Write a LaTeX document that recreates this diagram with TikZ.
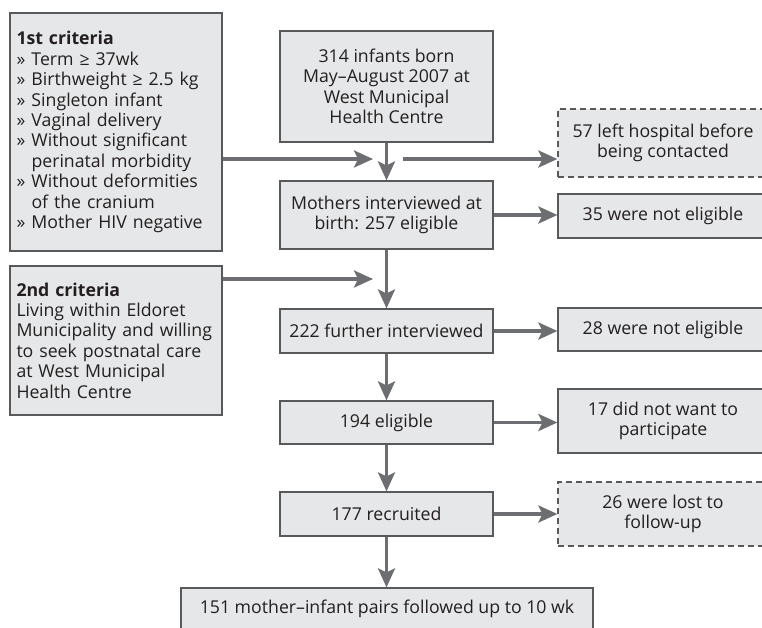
\documentclass[tikz,border=0pt]{standalone}
\usepackage{fontspec}
\setmainfont{Open Sans}
\usetikzlibrary{arrows.meta}
\definecolor{boxfill}{HTML}{E6E7E8}
\definecolor{boxline}{HTML}{58595B}
\definecolor{arr}{HTML}{6D6E71}
\definecolor{txt}{HTML}{231F20}
\newcommand{\bul}{\makebox[15pt][l]{»}}
\newcommand{\ind}{\hspace*{15pt}}
\begin{document}
\begin{tikzpicture}[x=1pt,y=-1pt,
 box/.style={draw=boxline, fill=boxfill, line width=1.2pt, inner sep=0pt, text=txt, align=center, font=\fontsize{17.7}{20.4}\selectfont},
 dbox/.style={box, dash pattern=on 6pt off 4pt},
 flow/.style={draw=arr, line width=3.4pt, -{Stealth[length=19pt,width=17pt,inset=4pt]}},
]
\useasboundingbox (0,0) rectangle (762,627);
\clip (0,0) rectangle (762,627);
% left criteria boxes
\node[box, minimum width=212pt, minimum height=238pt, text width=199pt, align=left] (c1) at (116,132)
 {\textbf{1st criteria}\\
  \bul Term ≥ 37wk\\
  \bul Birthweight ≥ 2.5 kg\\
  \bul Singleton infant\\
  \bul Vaginal delivery\\
  \bul Without significant\\
  \ind perinatal morbidity\\
  \bul Without deformities\\
  \ind of the cranium\\
  \bul Mother HIV negative};
\node[box, minimum width=212pt, minimum height=149pt, text width=199pt, align=left] (c2) at (116,340.5)
 {\textbf{2nd criteria}\\
  Living within Eldoret\\
  Municipality and willing\\
  to seek postnatal care\\
  at West Municipal\\
  Health Centre};
% main column
\node[box, minimum width=213pt, minimum height=111pt] (b1) at (386.5,86.5)
 {314 infants born\\May–August 2007 at\\West Municipal\\Health Centre};
\node[box, minimum width=213pt, minimum height=68pt] (b2) at (386.5,215)
 {Mothers interviewed at\\birth: 257 eligible};
\node[box, minimum width=213pt, minimum height=44pt] (b3) at (386.5,331)
 {222 further interviewed};
\node[box, minimum width=213pt, minimum height=43pt] (b4) at (386.5,422.5)
 {194 eligible};
\node[box, minimum width=213pt, minimum height=44pt] (b5) at (386.5,514)
 {177 recruited};
\node[box, minimum width=412pt, minimum height=42pt] (b6) at (387,609)
 {151 mother–infant pairs followed up to 10 wk};
% right column
\node[dbox, minimum width=210pt, minimum height=68pt] (d1) at (663,143)
 {57 left hospital before\\being contacted};
\node[box, minimum width=210pt, minimum height=44pt] (n1) at (663,216)
 {35 were not eligible};
\node[box, minimum width=210pt, minimum height=43pt] (n2) at (663,329.5)
 {28 were not eligible};
\node[box, minimum width=210pt, minimum height=64pt] (n3) at (663,421)
 {17 did not want to\\participate};
\node[dbox, minimum width=210pt, minimum height=64pt] (d2) at (663,514)
 {26 were lost to\\follow-up};
% junction points
\coordinate (j1a) at (373,159);
\coordinate (j1b) at (403,159);
\coordinate (j2a) at (373,279);
% connectors
\draw[flow] (c1.east |- j1a) -- (j1a);
\draw[flow] (j1b) -- (d1.west |- j1b);
\draw[flow] (c2.east |- j2a) -- (j2a);
\draw[flow] (b1) -- (b2);
\draw[flow] (b2) -- (b3);
\draw[flow] (b3) -- (b4);
\draw[flow] (b4) -- (b5);
\draw[flow] (b5.south) -- (b5.south |- b6.north);
\draw[flow] (b2.east) -- (n1.west |- b2.east);
\draw[flow] (b3.east) -- (n2.west |- b3.east);
\draw[flow] (b4.east) -- (n3.west |- b4.east);
\draw[flow] (b5.east) -- (d2.west |- b5.east);
\end{tikzpicture}
\end{document}
